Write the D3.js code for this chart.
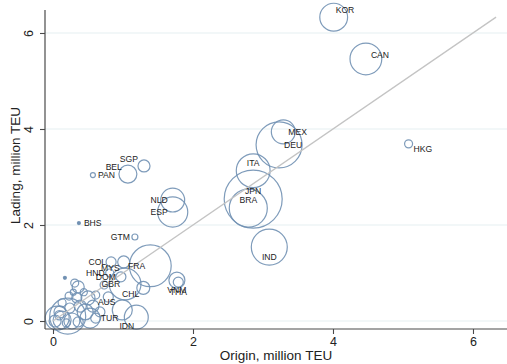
<!DOCTYPE html>
<html>
<head>
<meta charset="utf-8">
<script src="https://cdn.jsdelivr.net/npm/d3@7"></script>
<style>
  html, body { margin: 0; padding: 0; background: #fff; }
  svg { display: block; font-family: "Liberation Sans", Arial, Helvetica, sans-serif; }
</style>
</head>
<body>
<svg id="chart" width="507" height="364"></svg>
<script>
// Container traffic by country: origin vs. lading volume (million TEU),
// bubble area scaled by total throughput.
const countries = ["KOR","CAN","HKG","MEX","DEU","ITA","JPN","BRA","IND","SGP","BEL","PAN","BHS","GTM","NLD","ESP","FRA",
  "COL","MYS","HND","DOM","GBR","CHL","AUS","TUR","IDN","VNM","THA",
  "","","","","","","","","","","","","","","","","","","","","","","","","","","",""];
const origin = [4.01,4.47,5.08,3.29,3.23,2.86,2.86,2.79,3.09,1.30,1.07,0.57,0.37,1.17,1.71,1.71,1.39,
  0.83,1.01,0.81,0.97,1.03,1.29,0.57,0.61,1.19,1.77,1.79,
  0.17,0.31,0.36,0.29,0.23,0.34,0.50,0.13,0.39,0.24,0.46,0.10,0.21,0.06,0.13,0.03,0.27,0.53,0.67,0.19,0.36,0.99,0.79,0.61,0.73,0.09,0.44];
const lading = [6.33,5.46,3.69,3.94,3.67,3.13,2.54,2.35,1.54,3.23,3.06,3.04,2.04,1.75,2.52,2.27,1.15,
  1.23,1.23,1.00,0.92,0.77,0.69,0.31,0.06,0.08,0.85,0.81,
  0.90,0.79,0.71,0.60,0.52,0.48,0.48,0.38,0.31,0.27,0.19,0.19,0.10,0.06,0.02,0.00,0.00,0.06,0.19,-0.04,-0.02,0.23,0.50,0.54,0.75,0.12,0.60];
const throughput = [23,30,1.9,17,63,34,100,43,38.5,4.3,9.6,0.74,0.27,1.07,17,27,52,
  3.0,4.3,1.9,3.0,30,5.0,4.3,3.0,17,7.6,3.0,
  0.27,1.9,4.3,1.07,1.9,3.0,5.8,1.9,4.3,3.0,7.6,4.3,38.5,17,9.6,4.3,7.6,11.9,3.0,1.9,3.0,11.9,3.0,1.9,1.9,2.5,1.5];
// Clock position of each country label around its marker.
const labelPos = [1,2,4,3,3,12,12,12,6,10,10,3,3,9,9,9,9,
  9,8,9,9,9,8,2,3,7,6,6];

const xTicks = [0, 2, 4, 6];
const yTicks = [0, 2, 4, 6];

const svg = d3.select("#chart");
const plot = { left: 45, right: 507, top: 10, bottom: 329 };

const x = d3.scaleLinear().domain([-0.1143, 6.486]).range([plot.left, plot.right]);
const y = d3.scaleLinear().domain([-0.1667, 6.479]).range([plot.bottom, plot.top]);
const r = d3.scaleSqrt().domain([0, 100]).range([0, 29]);

const data = countries.map((c, i) => ({
  iso: c, x: origin[i], y: lading[i], w: throughput[i], pos: labelPos[i]
}));

// Horizontal gridlines
svg.append("g").selectAll("line").data(yTicks).join("line")
  .attr("x1", plot.left).attr("x2", plot.right)
  .attr("y1", d => y(d)).attr("y2", d => y(d))
  .attr("stroke", "#e6eff1").attr("stroke-width", 1.2);

// Bubbles
svg.append("g").selectAll("circle").data(data.slice().sort((a, b) => b.w - a.w)).join("circle")
  .attr("cx", d => x(d.x)).attr("cy", d => y(d.y))
  .attr("r", d => Math.max(1.2, r(d.w)))
  .attr("fill", d => r(d.w) < 2 ? "#7090b2" : "none")
  .attr("stroke", "#7090b2").attr("stroke-width", 1.2).attr("stroke-opacity", 0.9);

// 45-degree reference line
const lineMax = d3.max(origin.concat(lading));
svg.append("line")
  .attr("x1", x(0)).attr("y1", y(0))
  .attr("x2", x(lineMax)).attr("y2", y(lineMax))
  .attr("stroke", "#c4c4c4").attr("stroke-width", 1.3);

// Country labels
function labelOffset(p) {
  const g = 5, v = 8;
  switch (p) {
    case 1: return { dx: 2, dy: -7, a: "start" };
    case 2: return { dx: g, dy: -4, a: "start" };
    case 3: return { dx: g, dy: 0, a: "start" };
    case 4: return { dx: g, dy: 5, a: "start" };
    case 6: return { dx: 0, dy: v + 2, a: "middle" };
    case 7: return { dx: -2, dy: v + 1, a: "end" };
    case 8: return { dx: -4, dy: 6, a: "end" };
    case 9: return { dx: -g, dy: 0, a: "end" };
    case 10: return { dx: -6, dy: -7, a: "end" };
    case 12: return { dx: 0, dy: -v, a: "middle" };
    default: return { dx: g, dy: 0, a: "start" };
  }
}
svg.append("g").selectAll("text").data(data.filter(d => d.iso)).join("text")
  .each(function (d) {
    const o = labelOffset(d.pos);
    d3.select(this)
      .attr("x", x(d.x) + o.dx).attr("y", y(d.y) + o.dy)
      .attr("text-anchor", o.a).attr("dominant-baseline", "central");
  })
  .attr("font-size", 8.6).attr("fill", "#222")
  .text(d => d.iso);

// Axes
const xAxis = svg.append("g").attr("transform", `translate(0,${plot.bottom})`)
  .call(d3.axisBottom(x).tickValues(xTicks).tickSize(5).tickPadding(3).tickFormat(d3.format("d")));
xAxis.select(".domain").attr("d", `M${plot.left},0H${plot.right}`);

const yAxis = svg.append("g").attr("transform", `translate(${plot.left},0)`)
  .call(d3.axisLeft(y).tickValues(yTicks).tickSize(5).tickPadding(3).tickFormat(d3.format("d")));
yAxis.select(".domain").attr("d", `M0,${plot.top}V${plot.bottom}`);
yAxis.selectAll(".tick text")
  .attr("x", null).attr("dy", null)
  .attr("text-anchor", "middle")
  .attr("transform", "translate(-16,0) rotate(-90)")
  .attr("dominant-baseline", "central");

[xAxis, yAxis].forEach(g => {
  g.select(".domain").attr("stroke", "#4a4a4a").attr("stroke-width", 1.2);
  g.selectAll(".tick line").attr("stroke", "#4a4a4a").attr("stroke-width", 1.1);
  g.selectAll(".tick text").attr("font-size", 12.5).attr("fill", "#222")
    .attr("font-family", "'Liberation Sans', Arial, sans-serif");
});

// Axis titles
svg.append("text")
  .attr("x", (plot.left + plot.right) / 2).attr("y", 355)
  .attr("text-anchor", "middle").attr("dominant-baseline", "central")
  .attr("font-size", 13.5).attr("fill", "#222")
  .text("Origin, million TEU");

svg.append("text")
  .attr("transform", `translate(15,${(plot.top + plot.bottom) / 2 - 4}) rotate(-90)`)
  .attr("text-anchor", "middle").attr("dominant-baseline", "central")
  .attr("font-size", 13.5).attr("fill", "#222")
  .text("Lading, million TEU");
</script>
</body>
</html>
